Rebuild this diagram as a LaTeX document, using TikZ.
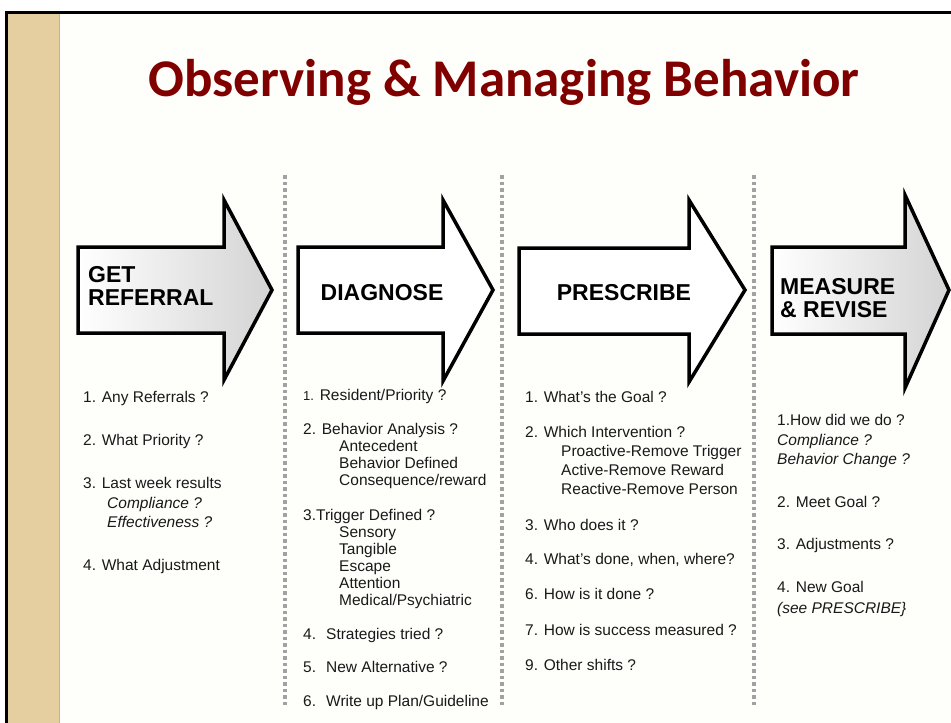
\documentclass[tikz,border=0pt]{standalone}
\usepackage{fontspec}
\setmainfont{Liberation Sans}
\newfontfamily\titlefont{Carlito}
\usepackage{xcolor}
\usetikzlibrary{positioning}
\definecolor{titlered}{RGB}{128,0,0}
\definecolor{slidebg}{RGB}{254,254,251}
\definecolor{tanband}{RGB}{229,207,160}
\definecolor{tanedge}{RGB}{196,178,142}
\definecolor{sepgray}{RGB}{162,162,162}
\definecolor{textgray}{RGB}{25,25,25}

\begin{document}
\begin{tikzpicture}[
  x=1pt, y=-1pt,
  stage/.style={draw=black, line width=3.5pt, line join=miter, fill=white},
  shadedstage/.style={stage, left color=white, right color=black!17},
  stagelabel/.style={font=\fontsize{23}{23}\selectfont\bfseries, inner sep=0pt, align=left},
  steps/.style={font=\fontsize{15.5}{19.5}\selectfont, text=textgray, inner sep=0pt,
                align=left, anchor=north west},
  sep/.style={draw=sepgray, line width=3.5pt, dash pattern=on 3.5pt off 3pt}
]
\useasboundingbox (0,0) rectangle (951,723);
% slide frame
\fill[slidebg] (8,12) rectangle (951,723);
\fill[tanband] (8,12) rectangle (59,723);
\draw[tanedge, line width=1.5pt] (59.5,12) -- (59.5,723);
\draw[line width=3pt] (6.5,723) -- (6.5,12) -- (951,12);
\node[font=\titlefont\fontsize{53}{53}\selectfont\bfseries, text=titlered,
      anchor=base, inner sep=0pt] (title) at (504,96) {Observing \& Managing Behavior};
% column separators
\draw[sep] (285,175) -- (285,707);
\draw[sep] (502,175) -- (502,707);
\draw[sep] (754,175) -- (754,707);
% stage arrows
\def\AY{290}
\draw[shadedstage] (78,247) -- (224,247) -- (224,200) -- (272,\AY) -- (224,380) -- (224,333) -- (78,333) -- cycle;
\draw[stage] (298,247) -- (443,247) -- (443,200) -- (493,\AY) -- (443,381) -- (443,333) -- (298,333) -- cycle;
\draw[stage] (519,248) -- (689,248) -- (689,200) -- (745,\AY) -- (689,382) -- (689,334) -- (519,334) -- cycle;
\draw[shadedstage] (772,247) -- (905,247) -- (905,195) -- (949,\AY) -- (905,388) -- (905,334) -- (772,334) -- cycle;
\node[stagelabel, anchor=north west] (lrefer) at (88,266.5) {GET\\REFERRAL};
\node[stagelabel, anchor=base] (ldiag) at (382,300) {DIAGNOSE};
\node[stagelabel, anchor=base] (lpres) at (624,300) {PRESCRIBE};
\node[stagelabel, anchor=north west] (lmeas) at (780,278.5) {MEASURE\\\& REVISE};
% questions under each stage
\node[steps] (qrefer) at (83,391.5) {1. Any Referrals ?\\[23.5pt]
  2. What Priority ?\\[23.5pt]
  3. Last week results\\
  \hspace*{24pt}\textit{Compliance ?}\\
  \hspace*{24pt}\textit{Effectiveness ?}\\[23pt]
  4. What Adjustment};
\node[steps, font=\fontsize{15.5}{17}\selectfont] (qdiag) at (303,389.5) {{\fontsize{13}{17}\selectfont 1.} Resident/Priority ?\\[17pt]
  2. Behavior Analysis ?\\
  \hspace*{36pt}Antecedent\\
  \hspace*{36pt}Behavior Defined\\
  \hspace*{36pt}Consequence/reward\\[18pt]
  3.Trigger Defined ?\\
  \hspace*{36pt}Sensory\\
  \hspace*{36pt}Tangible\\
  \hspace*{36pt}Escape\\
  \hspace*{36pt}Attention\\
  \hspace*{36pt}Medical/Psychiatric\\[17pt]
  4.~ Strategies tried ?\\[16pt]
  5.~ New Alternative ?\\[17pt]
  6.~ Write up Plan/Guideline};
\node[steps, font=\fontsize{15.5}{19}\selectfont] (qpres) at (525,391.5) {1. What’s the Goal ?\\[16pt]
  2. Which Intervention ?\\
  \hspace*{36pt}Proactive-Remove Trigger\\
  \hspace*{36pt}Active-Remove Reward\\
  \hspace*{36pt}Reactive-Remove Person\\[17pt]
  3. Who does it ?\\[15pt]
  4. What’s done, when, where?\\[16pt]
  6. How is it done ?\\[17pt]
  7. How is success measured ?\\[16pt]
  9. Other shifts ?};
\node[steps] (qmeas) at (777,414.5) {1.How did we do ?\\
  \textit{Compliance ?}\\
  \textit{Behavior Change ?}\\[23pt]
  2. Meet Goal ?\\[23pt]
  3. Adjustments ?\\[23pt]
  4. New Goal\\[1.5pt]
  \textit{(see PRESCRIBE\}}};
\end{tikzpicture}
\end{document}
